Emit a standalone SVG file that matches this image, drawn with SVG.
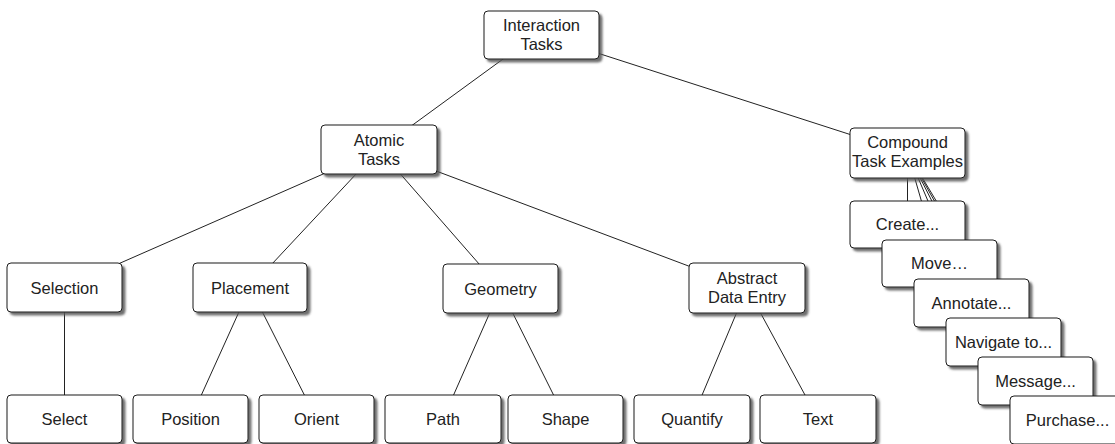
<svg xmlns="http://www.w3.org/2000/svg" width="1115" height="444" viewBox="0 0 1115 444">
  <style>
    .box { fill: #ffffff; stroke: #1a1a1a; stroke-width: 1; filter: url(#shadow); }
    .lbl { font-family: "Liberation Sans", Arial, sans-serif; font-size: 16.5px; fill: #222222; text-anchor: middle; }
    .edge { stroke: #222222; stroke-width: 1; fill: none; }
  </style>
  <defs>
    <filter id="shadow" x="-10%" y="-10%" width="130%" height="140%">
      <feDropShadow dx="3" dy="3" stdDeviation="0.9" flood-color="#555555" flood-opacity="0.85"/>
    </filter>
  </defs>

  <rect x="0" y="0" width="1115" height="444" fill="#ffffff"/>

  <!-- connectors: drawn centre to centre, boxes cover the ends -->
  <g id="connectors" class="edge">
    <line x1="536" y1="35" x2="379" y2="149.5"/>
    <line x1="541.5" y1="35" x2="907.5" y2="153"/>
    <line x1="379" y1="149.5" x2="64.5" y2="287.5"/>
    <line x1="379" y1="149.5" x2="250" y2="287.5"/>
    <line x1="379" y1="149.5" x2="500.5" y2="288.5"/>
    <line x1="379" y1="149.5" x2="747" y2="288"/>
    <line x1="64.5" y1="287.5" x2="64.5" y2="419"/>
    <line x1="250" y1="287.5" x2="190.5" y2="419"/>
    <line x1="250" y1="287.5" x2="316.5" y2="419"/>
    <line x1="500.5" y1="288.5" x2="443" y2="419"/>
    <line x1="500.5" y1="288.5" x2="565.5" y2="419"/>
    <line x1="747" y1="288" x2="692" y2="419"/>
    <line x1="747" y1="288" x2="818" y2="419"/>
    <line x1="907.5" y1="153" x2="907.5" y2="224.5"/>
    <line x1="907.5" y1="153" x2="939.5" y2="263.5"/>
    <line x1="907.5" y1="153" x2="971.5" y2="303"/>
    <line x1="907.5" y1="153" x2="1003.5" y2="342"/>
    <line x1="907.5" y1="153" x2="1035.5" y2="381"/>
    <line x1="907.5" y1="153" x2="1067.5" y2="420"/>
  </g>

  <!-- root -->
  <g id="interaction-tasks">
    <rect class="box" x="484" y="11" width="115" height="48" rx="4"/>
    <text class="lbl" x="541.5" y="31">Interaction</text>
    <text class="lbl" x="541.5" y="50">Tasks</text>
  </g>

  <!-- second level -->
  <g id="atomic-tasks">
    <rect class="box" x="321" y="125" width="116" height="49" rx="4"/>
    <text class="lbl" x="379" y="146">Atomic</text>
    <text class="lbl" x="379" y="165">Tasks</text>
  </g>
  <g id="compound-task-examples">
    <rect class="box" x="850" y="128" width="115" height="50" rx="4"/>
    <text class="lbl" x="907.5" y="148">Compound</text>
    <text class="lbl" x="907.5" y="167">Task Examples</text>
  </g>

  <!-- atomic task categories -->
  <g id="selection">
    <rect class="box" x="7" y="263" width="115" height="49" rx="4"/>
    <text class="lbl" x="64.5" y="293.5">Selection</text>
  </g>
  <g id="placement">
    <rect class="box" x="193" y="263" width="114" height="49" rx="4"/>
    <text class="lbl" x="250" y="293.5">Placement</text>
  </g>
  <g id="geometry">
    <rect class="box" x="443" y="264" width="115" height="49" rx="4"/>
    <text class="lbl" x="500.5" y="294.5">Geometry</text>
  </g>
  <g id="abstract-data-entry">
    <rect class="box" x="689" y="263" width="116" height="50" rx="4"/>
    <text class="lbl" x="747" y="284">Abstract</text>
    <text class="lbl" x="747" y="303">Data Entry</text>
  </g>

  <!-- leaves -->
  <g id="select">
    <rect class="box" x="7" y="395" width="115" height="48" rx="4"/>
    <text class="lbl" x="64.5" y="425">Select</text>
  </g>
  <g id="position">
    <rect class="box" x="133" y="395" width="115" height="48" rx="4"/>
    <text class="lbl" x="190.5" y="425">Position</text>
  </g>
  <g id="orient">
    <rect class="box" x="259" y="395" width="115" height="48" rx="4"/>
    <text class="lbl" x="316.5" y="425">Orient</text>
  </g>
  <g id="path">
    <rect class="box" x="385" y="395" width="116" height="48" rx="4"/>
    <text class="lbl" x="443" y="425">Path</text>
  </g>
  <g id="shape">
    <rect class="box" x="508" y="395" width="115" height="48" rx="4"/>
    <text class="lbl" x="565.5" y="425">Shape</text>
  </g>
  <g id="quantify">
    <rect class="box" x="634" y="395" width="116" height="48" rx="4"/>
    <text class="lbl" x="692" y="425">Quantify</text>
  </g>
  <g id="text">
    <rect class="box" x="760" y="395" width="116" height="48" rx="4"/>
    <text class="lbl" x="818" y="425">Text</text>
  </g>

  <!-- compound examples, stacked cascade -->
  <g id="create">
    <rect class="box" x="850" y="201" width="115" height="47" rx="4"/>
    <text class="lbl" x="907.5" y="230">Create...</text>
  </g>
  <g id="move">
    <rect class="box" x="882" y="240" width="115" height="47" rx="4"/>
    <text class="lbl" x="939.5" y="269">Move…</text>
  </g>
  <g id="annotate">
    <rect class="box" x="914" y="279" width="115" height="48" rx="4"/>
    <text class="lbl" x="971.5" y="308.5">Annotate...</text>
  </g>
  <g id="navigate-to">
    <rect class="box" x="946" y="318" width="115" height="48" rx="4"/>
    <text class="lbl" x="1003.5" y="347.5">Navigate to...</text>
  </g>
  <g id="message">
    <rect class="box" x="978" y="357" width="115" height="48" rx="4"/>
    <text class="lbl" x="1035.5" y="386.5">Message...</text>
  </g>
  <g id="purchase">
    <rect class="box" x="1010" y="396" width="115" height="48" rx="4"/>
    <text class="lbl" x="1067.5" y="425.5">Purchase...</text>
  </g>
</svg>
